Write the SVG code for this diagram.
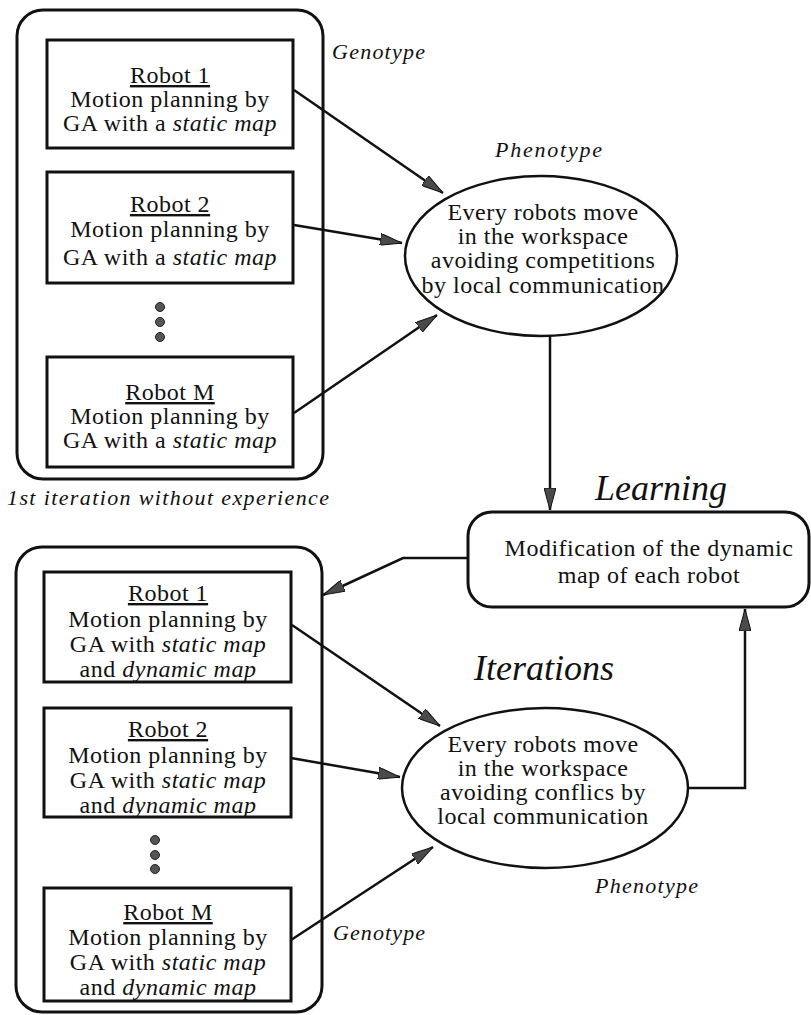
<svg xmlns="http://www.w3.org/2000/svg" width="811" height="1015" viewBox="0 0 811 1015">
<defs>
<style>
.bg{fill:#fff}
.outer{fill:none;stroke:#111;stroke-width:3}
.box{fill:none;stroke:#111;stroke-width:3}
.ell{fill:none;stroke:#111;stroke-width:2.5}
.t{font-family:"Liberation Serif","Times New Roman",serif;font-size:24px;letter-spacing:0.5px;fill:#111;text-anchor:middle}
.it{font-style:italic}
.u{text-decoration:underline}
.lab{font-family:"Liberation Serif","Times New Roman",serif;font-style:italic;font-size:22px;fill:#111}
.big{font-family:"Liberation Serif","Times New Roman",serif;font-style:italic;font-size:36px;fill:#111;text-anchor:middle}
.dot{fill:#555;stroke:#222;stroke-width:1}
.c{fill:none;stroke:#111;stroke-width:2.5}
</style>
<marker id="ah" viewBox="0 0 22 12" refX="22" refY="6" markerWidth="22" markerHeight="12" markerUnits="userSpaceOnUse" orient="auto">
<path d="M0,0 L22,6 L0,12 Z" fill="#4a4a4a" stroke="#111" stroke-width="1"/>
</marker>
</defs>
<rect class="bg" x="0" y="0" width="811" height="1015"/>

<g id="group-top">
<rect class="outer" x="17" y="10" width="306" height="469" rx="26" ry="26"/>
</g>

<g id="top-robot1">
<rect class="box" x="47" y="40" width="246" height="108"/>
<text class="t" x="170" y="83"><tspan class="u">Robot 1</tspan></text>
<text class="t" x="170" y="107">Motion planning by</text>
<text class="t" x="170" y="131">GA with a <tspan class="it">static map</tspan></text>
</g>

<g id="top-robot2">
<rect class="box" x="47" y="172" width="246" height="111"/>
<text class="t" x="170" y="212"><tspan class="u">Robot 2</tspan></text>
<text class="t" x="170" y="237">Motion planning by</text>
<text class="t" x="170" y="265">GA with a <tspan class="it">static map</tspan></text>
</g>

<g id="top-dots">
<circle class="dot" cx="160" cy="307" r="4.5"/>
<circle class="dot" cx="160" cy="322" r="4.5"/>
<circle class="dot" cx="160" cy="337" r="4.5"/>
</g>

<g id="top-robotM">
<rect class="box" x="47" y="357" width="246" height="110"/>
<text class="t" x="170" y="400"><tspan class="u">Robot M</tspan></text>
<text class="t" x="170" y="424">Motion planning by</text>
<text class="t" x="170" y="448">GA with a <tspan class="it">static map</tspan></text>
</g>

<g id="labels">
<text class="lab" x="332" y="59" textLength="93">Genotype</text>
<text class="lab" x="495" y="157" textLength="107">Phenotype</text>
<text class="lab" x="7" y="505" textLength="322">1st iteration without experience</text>
<text class="big" x="661" y="500">Learning</text>
<text class="big" x="544" y="680">Iterations</text>
<text class="lab" x="595" y="893" textLength="103">Phenotype</text>
<text class="lab" x="333" y="940" textLength="92">Genotype</text>
</g>

<g id="ellipse-top">
<ellipse class="ell" cx="541" cy="256" rx="136" ry="80"/>
<text class="t" x="543" y="220">Every robots move</text>
<text class="t" x="543" y="244">in the workspace</text>
<text class="t" x="543" y="268">avoiding competitions</text>
<text class="t" x="543" y="293">by local communication</text>
</g>

<g id="learning-box">
<rect class="box" x="468" y="512" width="341" height="95" rx="24" ry="24"/>
<text class="t" x="649" y="556">Modification of the dynamic</text>
<text class="t" x="649" y="583">map of each robot</text>
</g>

<g id="group-bottom">
<rect class="outer" x="16" y="547" width="306" height="465" rx="26" ry="26"/>
</g>

<g id="bottom-robot1">
<rect class="box" x="44" y="572" width="247" height="110"/>
<text class="t" x="168" y="601"><tspan class="u">Robot 1</tspan></text>
<text class="t" x="168" y="627">Motion planning by</text>
<text class="t" x="168" y="652">GA with <tspan class="it">static map</tspan></text>
<text class="t" x="168" y="677">and <tspan class="it">dynamic map</tspan></text>
</g>

<g id="bottom-robot2">
<rect class="box" x="44" y="708" width="247" height="109"/>
<text class="t" x="168" y="737"><tspan class="u">Robot 2</tspan></text>
<text class="t" x="168" y="763">Motion planning by</text>
<text class="t" x="168" y="788">GA with <tspan class="it">static map</tspan></text>
<text class="t" x="168" y="813">and <tspan class="it">dynamic map</tspan></text>
</g>

<g id="bottom-dots">
<circle class="dot" cx="155" cy="840" r="4.5"/>
<circle class="dot" cx="155" cy="855" r="4.5"/>
<circle class="dot" cx="155" cy="869" r="4.5"/>
</g>

<g id="bottom-robotM">
<rect class="box" x="44" y="888" width="247" height="113"/>
<text class="t" x="168" y="920"><tspan class="u">Robot M</tspan></text>
<text class="t" x="168" y="945">Motion planning by</text>
<text class="t" x="168" y="970">GA with <tspan class="it">static map</tspan></text>
<text class="t" x="168" y="995">and <tspan class="it">dynamic map</tspan></text>
</g>

<g id="ellipse-bottom">
<ellipse class="ell" cx="545" cy="788" rx="143" ry="80"/>
<text class="t" x="543" y="752">Every robots move</text>
<text class="t" x="543" y="776">in the workspace</text>
<text class="t" x="543" y="800">avoiding conflics by</text>
<text class="t" x="543" y="824">local communication</text>
</g>

<g id="connectors">
<line class="c" x1="294" y1="90" x2="443" y2="193" marker-end="url(#ah)"/>
<line class="c" x1="294" y1="225" x2="402" y2="243" marker-end="url(#ah)"/>
<line class="c" x1="294" y1="413" x2="437" y2="315" marker-end="url(#ah)"/>
<line class="c" x1="550" y1="336" x2="550" y2="510" marker-end="url(#ah)"/>
<polyline class="c" points="468,558 403,558 323,595" marker-end="url(#ah)"/>
<line class="c" x1="292" y1="625" x2="440" y2="726" marker-end="url(#ah)"/>
<line class="c" x1="291" y1="758" x2="400" y2="777" marker-end="url(#ah)"/>
<line class="c" x1="291" y1="940" x2="433" y2="847" marker-end="url(#ah)"/>
<polyline class="c" points="688,788 745,788 745,609" marker-end="url(#ah)"/>
</g>
</svg>
